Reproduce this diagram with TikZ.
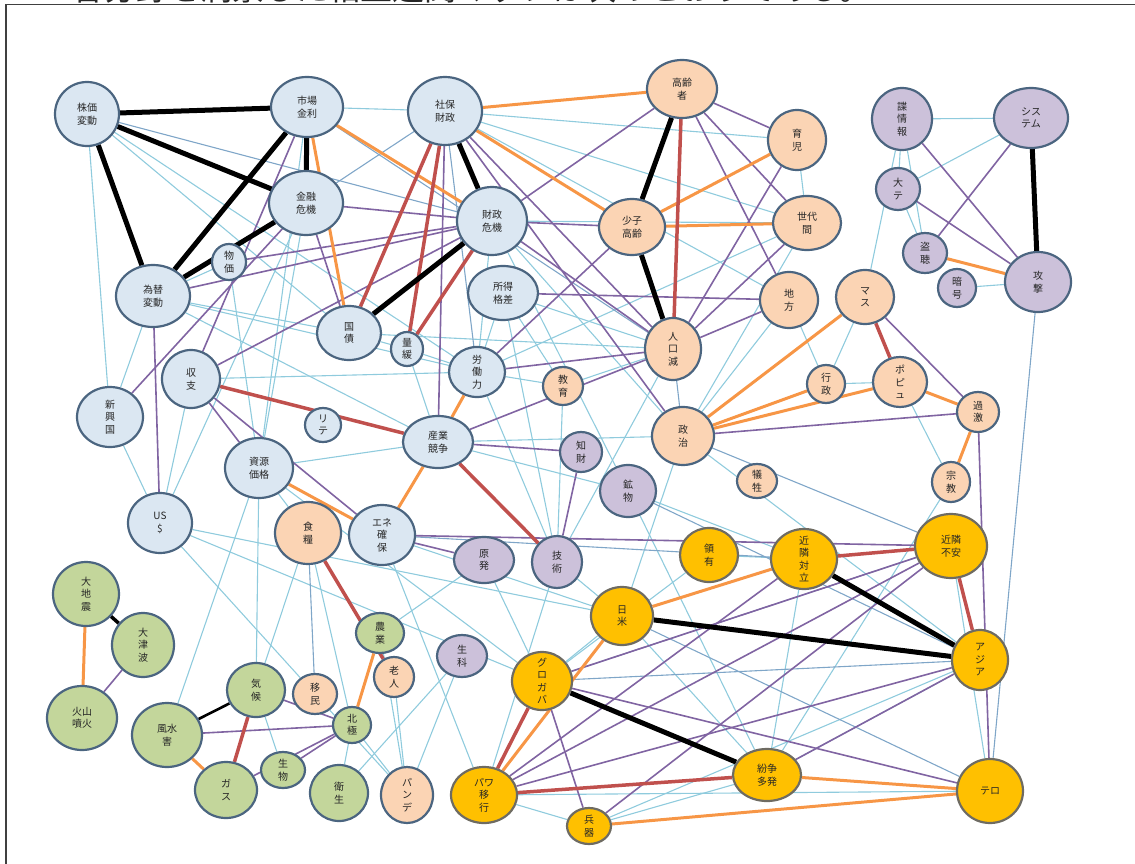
\documentclass[tikz,border=0pt]{standalone}
\usepackage{fontspec}
\newfontfamily\jp{Noto Sans CJK JP}
\usetikzlibrary{shapes.geometric}
\pgfdeclarelayer{bg}
\pgfsetlayers{bg,main}

\definecolor{fBlue}{HTML}{DBE7F2}
\definecolor{fPeach}{HTML}{FBD4B4}
\definecolor{fLilac}{HTML}{CCC1DA}
\definecolor{fGreen}{HTML}{C3D69B}
\definecolor{fGold}{HTML}{FFC000}
\definecolor{rim}{HTML}{4B6580}
\definecolor{rimGold}{HTML}{6E6B62}
\definecolor{eRed}{HTML}{C0504D}
\definecolor{eOrange}{HTML}{F79646}
\definecolor{ePurple}{HTML}{8064A2}
\definecolor{eBlue}{HTML}{8FCBDD}
\definecolor{eSteel}{HTML}{7FA6C8}

\tikzset{
  bub/.style={ellipse, draw=rim, line width=2.2pt, inner sep=0pt},
  nBlue/.style={fill=fBlue},
  nPeach/.style={fill=fPeach},
  nLilac/.style={fill=fLilac},
  nGreen/.style={fill=fGreen},
  nGold/.style={fill=fGold, draw=rimGold},
  lab/.style={inner sep=0pt, align=center, text=black!85,
    font=\jp\fontsize{10}{12.5}\selectfont},
  eK/.style={draw=black, line width=5pt},
  eR/.style={draw=eRed, line width=3.5pt},
  eO/.style={draw=eOrange, line width=3pt},
  eP/.style={draw=ePurple, line width=1.6pt},
  eB/.style={draw=eBlue, line width=1.1pt},
  eS/.style={draw=eSteel, line width=1.1pt},
}

% name, x, y, x-radius, y-radius, style, text
\newcommand\bub[7]{%
  \node[bub,#6,minimum width={2*#4},minimum height={2*#5}] (#1) at (#2,#3) {};
  \node[lab] (#1-t) at (#1.center) {#7};}

\begin{document}
\begin{tikzpicture}[x=1pt,y=-1pt]
\useasboundingbox (0,0) rectangle (1135,864);

% heading line and frame
\node[anchor=base west, inner sep=0pt, font=\jp\fontsize{32}{32}\selectfont, text=black!85]
  (head) at (72,1) {各分野を洞察した相互連関マップは次のとおりである。};
\draw[line width=1.5pt, black!75] (1140,4.5) -- (6,4.5) -- (6,870);

% economy / finance
\bub{kabu}{87}{114}{32}{32}{nBlue}{株価\\変動}
\bub{shijo}{307}{107}{36}{30}{nBlue}{市場\\金利}
\bub{kinyu}{306}{203}{37}{32}{nBlue}{金融\\危機}
\bub{bukka}{229}{262}{17}{18}{nBlue}{物\\価}
\bub{kawase}{153}{296}{37}{31}{nBlue}{為替\\変動}
\bub{shaho}{445}{111}{37}{34}{nBlue}{社保\\財政}
\bub{zaisei}{492}{221}{35}{34}{nBlue}{財政\\危機}
\bub{shotoku}{503}{293}{35}{27}{nBlue}{所得\\格差}
\bub{kokusai}{349}{333}{32}{27}{nBlue}{国\\債}
\bub{ryokan}{407}{349}{16}{17}{nBlue}{量\\緩}
\bub{rodo}{477}{372}{28}{25}{nBlue}{労\\働\\力}
\bub{shushi}{191}{379}{29}{29}{nBlue}{収\\支}
\bub{shinko}{110}{417}{33}{30}{nBlue}{新\\興\\国}
\bub{rite}{323}{425}{18}{17}{nBlue}{リ\\テ}
\bub{sangyo}{438}{442}{35}{26}{nBlue}{産業\\競争}
\bub{shigen}{259}{468}{34}{30}{nBlue}{資源\\価格}
\bub{usd}{160}{523}{32}{30}{nBlue}{US\\\$}
\bub{ene}{382}{535}{33}{30}{nBlue}{エネ\\確\\保}

% society
\bub{koreisha}{682}{89}{35}{29}{nPeach}{高齢\\者}
\bub{ikuji}{797}{140}{29}{30}{nPeach}{育\\児}
\bub{shoshi}{632}{227}{33}{28}{nPeach}{少子\\高齢}
\bub{sedai}{807}{223}{34}{27}{nPeach}{世代\\間}
\bub{chiho}{789}{300}{29}{28}{nPeach}{地\\方}
\bub{masu}{865}{297}{29}{27}{nPeach}{マ\\ス}
\bub{jinko}{673}{349}{28}{31}{nPeach}{人\\口\\減}
\bub{kyoiku}{563}{386}{20}{19}{nPeach}{教\\育}
\bub{seiji}{683}{436}{31}{29}{nPeach}{政\\治}
\bub{gyosei}{826}{384}{19}{19}{nPeach}{行\\政}
\bub{popu}{900}{382}{27}{25}{nPeach}{ポ\\ピ\\ュ}
\bub{kageki}{978}{412}{21}{20}{nPeach}{過\\激}
\bub{shukyo}{951}{482}{19}{20}{nPeach}{宗\\教}
\bub{gisei}{757}{481}{20}{17}{nPeach}{犠\\牲}
\bub{shokuryo}{308}{533}{33}{31}{nPeach}{食\\糧}
\bub{rojin}{394}{677}{20}{20}{nPeach}{老\\人}
\bub{imin}{315}{694}{22}{20}{nPeach}{移\\民}
\bub{pande}{407}{795}{26}{28}{nPeach}{パ\\ン\\デ}

% technology / security
\bub{chohou}{902}{119}{30}{31}{nLilac}{諜\\情\\報}
\bub{system}{1031}{118}{37}{30}{nLilac}{シス\\テム}
\bub{daite}{898}{189}{22}{21}{nLilac}{大\\テ}
\bub{tocho}{925}{253}{22}{20}{nLilac}{盗\\聴}
\bub{ango}{957}{288}{19}{19}{nLilac}{暗\\号}
\bub{kogeki}{1038}{282}{33}{30}{nLilac}{攻\\撃}
\bub{chizai}{581}{452}{21}{20}{nLilac}{知\\財}
\bub{kobutsu}{628}{491}{28}{26}{nLilac}{鉱\\物}
\bub{genpatsu}{484}{560}{30}{23}{nLilac}{原\\発}
\bub{gijutsu}{557}{562}{25}{26}{nLilac}{技\\術}
\bub{seika}{462}{656}{25}{21}{nLilac}{生\\科}

% nature / environment
\bub{jishin}{86}{594}{33}{32}{nGreen}{大\\地\\震}
\bub{tsunami}{143}{645}{31}{32}{nGreen}{大\\津\\波}
\bub{kazan}{82}{718}{35}{32}{nGreen}{火山\\噴火}
\bub{fusui}{167}{735}{35}{32}{nGreen}{風水\\害}
\bub{kiko}{256}{690}{29}{27}{nGreen}{気\\候}
\bub{gas}{226}{790}{31}{28}{nGreen}{ガ\\ス}
\bub{seibutsu}{283}{770}{22}{18}{nGreen}{生\\物}
\bub{hokkyoku}{352}{725}{19}{18}{nGreen}{北\\極}
\bub{eisei}{339}{793}{29}{28}{nGreen}{衛\\生}
\bub{nogyo}{380}{633}{24}{20}{nGreen}{農\\業}

% geopolitics
\bub{ryoyu}{709}{555}{29}{27}{nGold}{領\\有}
\bub{kinrin}{804}{559}{33}{30}{nGold}{近\\隣\\対\\立}
\bub{fuan}{951}{546}{36}{32}{nGold}{近隣\\不安}
\bub{nichibei}{622}{616}{31}{29}{nGold}{日\\米}
\bub{asia}{980}{660}{28}{30}{nGold}{ア\\ジ\\ア}
\bub{guro}{542}{681}{30}{29}{nGold}{グ\\ロ\\ガ\\バ}
\bub{power}{484}{795}{33}{28}{nGold}{パワ\\移\\行}
\bub{funso}{767}{775}{34}{26}{nGold}{紛争\\多発}
\bub{heiki}{589}{826}{22}{18}{nGold}{兵\\器}
\bub{tero}{990}{791}{33}{32}{nGold}{テロ}

\begin{pgfonlayer}{bg}
% weak links
\foreach \a/\b in {kabu/shinko, kabu/kokusai, kabu/rodo, shijo/shaho, shijo/shigen,
  kinyu/shigen, bukka/shigen, kawase/shinko, kawase/rodo, kawase/kokusai, kawase/bukka,
  shaho/ikuji, shaho/sedai, shaho/chiho, zaisei/sedai, zaisei/rodo, zaisei/seiji,
  ikuji/sedai, sedai/seiji, sedai/rodo, chiho/gyosei, chiho/seiji, masu/gyosei,
  masu/chohou, popu/shukyo, gyosei/popu, shukyo/funso, chohou/system, chohou/daite,
  chohou/tocho, system/daite, daite/tocho, ango/kogeki, rodo/kyoiku, rodo/gijutsu,
  kyoiku/gijutsu, sangyo/seiji, sangyo/kobutsu, sangyo/shigen, sangyo/kawase,
  shushi/usd, shinko/usd, usd/kinyu, usd/nichibei, usd/imin, shigen/kiko,
  shigen/shokuryo, shigen/fusui, shokuryo/kiko, shokuryo/hokkyoku, ene/power,
  genpatsu/nogyo, seika/pande, rojin/pande, hokkyoku/pande, nichibei/guro,
  nichibei/funso, ryoyu/kinrin, kinrin/funso, fuan/tero, asia/funso, asia/heiki,
  power/tero, power/heiki, heiki/funso, seiji/nichibei, seiji/asia, kyoiku/jinko,
  shotoku/rodo, shotoku/kyoiku, shotoku/jinko, ryokan/sangyo, ryokan/rodo,
  kokusai/ryokan, jinko/gijutsu, kobutsu/kinrin, gijutsu/nichibei, shushi/rodo,
  kokusai/jinko, zaisei/kobutsu, shotoku/gijutsu, shigen/guro, usd/guro,
  ene/nichibei, genpatsu/guro, kobutsu/funso, ryoyu/guro, gijutsu/power,
  seika/eisei, imin/pande, nogyo/pande, eisei/hokkyoku, kiko/seibutsu}
  \draw[eB] (\a) -- (\b);
\foreach \a/\b in {kabu/zaisei, shijo/jinko, seiji/fuan, kogeki/tero, kinyu/shaho,
  shaho/rodo, jinko/seiji, kinrin/asia, fuan/guro, guro/asia, nichibei/tero,
  kobutsu/asia, ene/kinrin, shokuryo/imin}
  \draw[eS] (\a) -- (\b);
% medium links
\foreach \a/\b in {kawase/usd, shinko/kinyu, shushi/zaisei, shushi/shigen, shushi/ene,
  kinyu/zaisei, kinyu/kokusai, bukka/zaisei, shijo/shushi, shaho/jinko, shaho/seiji,
  zaisei/shoshi, koreisha/zaisei, zaisei/jinko, shotoku/chiho, koreisha/ikuji,
  koreisha/sedai, koreisha/chiho, jinko/ikuji, jinko/sedai, jinko/chiho, rodo/jinko,
  sangyo/jinko, sangyo/chizai, chizai/gijutsu, sangyo/shaho, ene/genpatsu, ene/fuan,
  seiji/kageki, masu/kageki, kageki/tero, chohou/kogeki, daite/kogeki, system/tocho,
  kazan/tsunami, kiko/hokkyoku, gas/hokkyoku, seibutsu/hokkyoku, fusui/hokkyoku,
  power/kinrin, power/fuan, power/asia, guro/heiki, guro/tero, shoshi/rodo,
  kawase/zaisei, heiki/fuan, guro/fuan, funso/asia}
  \draw[eP] (\a) -- (\b);
% strong links
\foreach \a/\b in {shaho/koreisha, shaho/shoshi, shijo/kokusai, shijo/zaisei,
  shoshi/sedai, shoshi/ikuji, rodo/sangyo, sangyo/ene, shigen/ene, masu/seiji,
  popu/seiji, gyosei/seiji, kageki/popu, kageki/shukyo, tocho/kogeki, jishin/kazan,
  fusui/gas, nogyo/hokkyoku, nichibei/kinrin, nichibei/power, funso/tero, heiki/tero}
  \draw[eO] (\a) -- (\b);
\foreach \a/\b in {shaho/kokusai, shaho/ryokan, zaisei/ryokan, koreisha/jinko,
  shushi/sangyo, sangyo/gijutsu, shokuryo/rojin, kiko/gas, masu/popu, kinrin/fuan,
  fuan/asia, guro/power, power/funso}
  \draw[eR] (\a) -- (\b);
% strongest links
\foreach \a/\b in {kabu/shijo, kabu/kinyu, kabu/kawase, shijo/kawase, shijo/kinyu,
  kinyu/kawase, shaho/zaisei, zaisei/kokusai, koreisha/shoshi, shoshi/jinko,
  system/kogeki, kinrin/asia, nichibei/asia, guro/funso}
  \draw[eK] (\a) -- (\b);
\draw[eK, line width=3.5pt] (jishin) -- (tsunami);
\draw[eK, line width=2.6pt] (fusui) -- (kiko);
\end{pgfonlayer}
\end{tikzpicture}
\end{document}
